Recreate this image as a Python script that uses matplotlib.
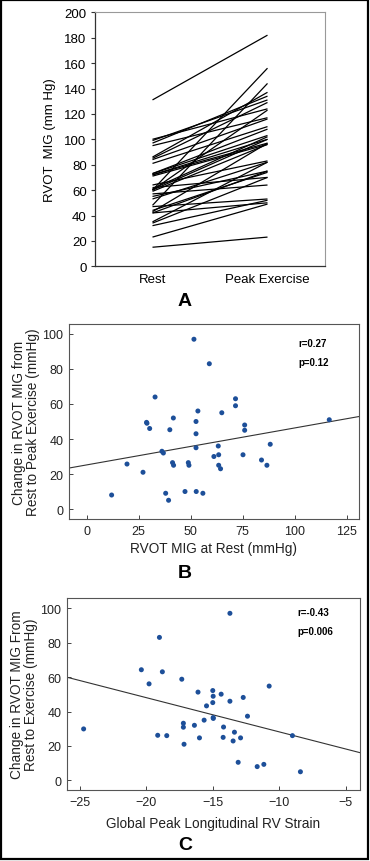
import matplotlib
matplotlib.use("Agg")
import matplotlib.pyplot as plt
from matplotlib.patches import Rectangle

plt.rcParams['font.family'] = ['Liberation Sans', 'DejaVu Sans']

# ---------------- Panel A data (rest -> peak exercise, mm Hg) ----------------
a_categories = ["Rest", "Peak Exercise"]
a_rest = [131, 100, 99, 97, 95, 86, 85, 84, 81, 73, 73, 72, 72, 71, 64, 62, 61,
          60, 60, 60, 59, 57, 55, 53, 48, 47, 44, 43, 42, 42, 35, 34, 32, 23, 15]
a_peak = [182, 124, 131, 134, 117, 137, 129, 116, 110, 108, 103, 100, 97, 96, 83, 70, 102,
          156, 123, 100, 96, 64, 75, 82, 144, 53, 74, 97, 75, 50, 82, 70, 52, 49, 23]
a_yticks = [0, 20, 40, 60, 80, 100, 120, 140, 160, 180, 200]

# ---------------- Panel B data ----------------
b_rest = [12, 19.4, 27.1, 28.8, 29, 30.3, 32.9, 36.2, 36.9, 38, 39.4, 40, 41.3, 41.8,
          41.7, 47.3, 48.9, 49.2, 51.6, 52.6, 52.6, 52.6, 52.7, 53.5, 55.9, 59, 61.2,
          63.3, 63.5, 63.5, 64.4, 65, 71.6, 71.6, 75.2, 76, 76, 84.1, 86.7, 88.3, 116.7]
b_change = [8, 25.7, 21, 49.5, 49, 46, 64, 33, 32, 9, 5, 45.3, 26.5, 25,
            52, 10, 26.5, 25, 97, 50, 43, 35, 10, 56, 9, 83, 30,
            36, 31, 25, 23, 55, 63, 59, 31, 48, 45, 28, 25, 37, 51]
b_fit = {"intercept": 25.2, "slope": 0.211}
b_stats = ["r=0.27", "p=0.12"]
b_xticks = [0, 25, 50, 75, 100, 125]
b_yticks = [0, 20, 40, 60, 80, 100]

# ---------------- Panel C data ----------------
c_strain = [-24.7, -20.36, -19.78, -19.13, -19.0, -18.78, -18.45, -17.32, -17.2, -17.2,
            -17.15, -16.37, -16.1, -15.99, -15.64, -15.46, -14.99, -14.96, -14.99, -14.96,
            -14.95, -14.36, -14.18, -14.21, -13.7, -13.7, -13.36, -13.46, -13.08, -12.9,
            -12.7, -12.38, -11.65, -11.15, -10.75, -9.0, -8.4]
c_change = [29.9, 64.3, 56.1, 26.2, 83.1, 63.1, 26, 58.8, 33.2, 30.9,
            21, 32, 51.3, 24.7, 35, 43.3, 52.2, 48.9, 45.2, 36.5,
            36, 50.1, 31, 25, 97.1, 46, 28, 22.9, 10.5, 24.7,
            48.2, 37.3, 8, 9.3, 54.8, 26, 5]
c_fit = {"intercept": 8.3, "slope": -1.99}
c_stats = ["r=-0.43", "p=0.006"]
c_xticks = [-25, -20, -15, -10, -5]
c_yticks = [0, 20, 40, 60, 80, 100]

W, H = 370, 862
fig = plt.figure(figsize=(W / 100, H / 100), dpi=100)

def fr(left, top, right, bottom):
    return [left / W, 1 - bottom / H, (right - left) / W, (bottom - top) / H]

dot_color = '#1d4f99'
spine_col = '#555555'
text_col = '#222222'
lab_fs = 9.8
tick_fs = 9

# ---------------- Panel A ----------------
axA = fig.add_axes(fr(95, 13.3, 325, 267.3))
for r, p in zip(a_rest, a_peak):
    axA.plot([1, 2], [r, p], color='black', lw=0.9, solid_capstyle='butt')
axA.set_xlim(0.5, 2.5)
axA.set_ylim(0, 200)
axA.set_yticks(a_yticks)
axA.set_xticks([1, 2])
axA.set_xticklabels(a_categories)
axA.tick_params(axis='y', direction='out', length=3, width=0.8, color='#333333',
                labelsize=9.5, pad=3)
axA.tick_params(axis='x', length=0, labelsize=9.5, pad=5)
axA.set_ylabel("RVOT  MIG (mm Hg)", fontsize=9.5, labelpad=6)
for s in ['left', 'bottom']:
    axA.spines[s].set_color('#333333')
    axA.spines[s].set_linewidth(0.9)
for s in ['top', 'right']:
    axA.spines[s].set_color('#999999')
    axA.spines[s].set_linewidth(0.8)

# ---------------- Panel B ----------------
axB = fig.add_axes(fr(69, 325, 359, 520))
axB.scatter(b_rest, b_change, s=13, color=dot_color, edgecolors='none', zorder=3)
axB.axline((0, b_fit["intercept"]), slope=b_fit["slope"], color='#333333', lw=0.8)
axB.set_xlim(-8.5, 131)
axB.set_ylim(-5.7, 105.7)
axB.set_xticks(b_xticks)
axB.set_yticks(b_yticks)
axB.tick_params(direction='in', length=3, width=0.7, color='#444444',
                labelsize=tick_fs, labelcolor=text_col, pad=4)
axB.set_xlabel("RVOT MIG at Rest (mmHg)", fontsize=lab_fs, labelpad=3, color=text_col)
axB.set_ylabel("Change in RVOT MIG from\nRest to Peak Exercise (mmHg)", fontsize=lab_fs,
               labelpad=2, color=text_col, linespacing=0.95)
axB.text(102, 95, b_stats[0], fontsize=7, fontweight='bold', ha='left', va='center')
axB.text(102, 84, b_stats[1], fontsize=7, fontweight='bold', ha='left', va='center')
for s in axB.spines.values():
    s.set_color(spine_col)
    s.set_linewidth(0.8)

# ---------------- Panel C ----------------
axC = fig.add_axes(fr(67, 599, 360, 791))
axC.scatter(c_strain, c_change, s=13, color=dot_color, edgecolors='none', zorder=3)
axC.axline((0, c_fit["intercept"]), slope=c_fit["slope"], color='#333333', lw=0.8)
axC.set_xlim(-25.95, -3.92)
axC.set_ylim(-5.6, 106)
axC.set_xticks(c_xticks)
axC.set_yticks(c_yticks)
axC.tick_params(direction='in', length=3, width=0.7, color='#444444',
                labelsize=tick_fs, labelcolor=text_col, pad=4)
axC.set_xlabel("Global Peak Longitudinal RV Strain", fontsize=lab_fs, labelpad=6,
               color=text_col)
axC.set_ylabel("Change in RVOT MIG From\nRest to Exercise (mmHg)", fontsize=lab_fs,
               labelpad=2, color=text_col, linespacing=0.95)
axC.text(-8.6, 97.9, c_stats[0], fontsize=7, fontweight='bold', ha='left', va='center')
axC.text(-8.6, 87, c_stats[1], fontsize=7, fontweight='bold', ha='left', va='center')
for s in axC.spines.values():
    s.set_color(spine_col)
    s.set_linewidth(0.8)

# ---------------- Panel letters ----------------
for letter, y in [("A", 301.7), ("B", 574), ("C", 846)]:
    fig.text(185 / W, 1 - y / H, letter, fontsize=14, fontweight='bold',
             ha='center', va='center')

# ---------------- Figure border ----------------
fig.add_artist(Rectangle((0.5 / W, 2.5 / H), (W - 2.5) / W, (H - 3.5) / H,
                         transform=fig.transFigure, fill=False,
                         edgecolor='black', lw=1.6))

fig.savefig("out.png", dpi=100)
